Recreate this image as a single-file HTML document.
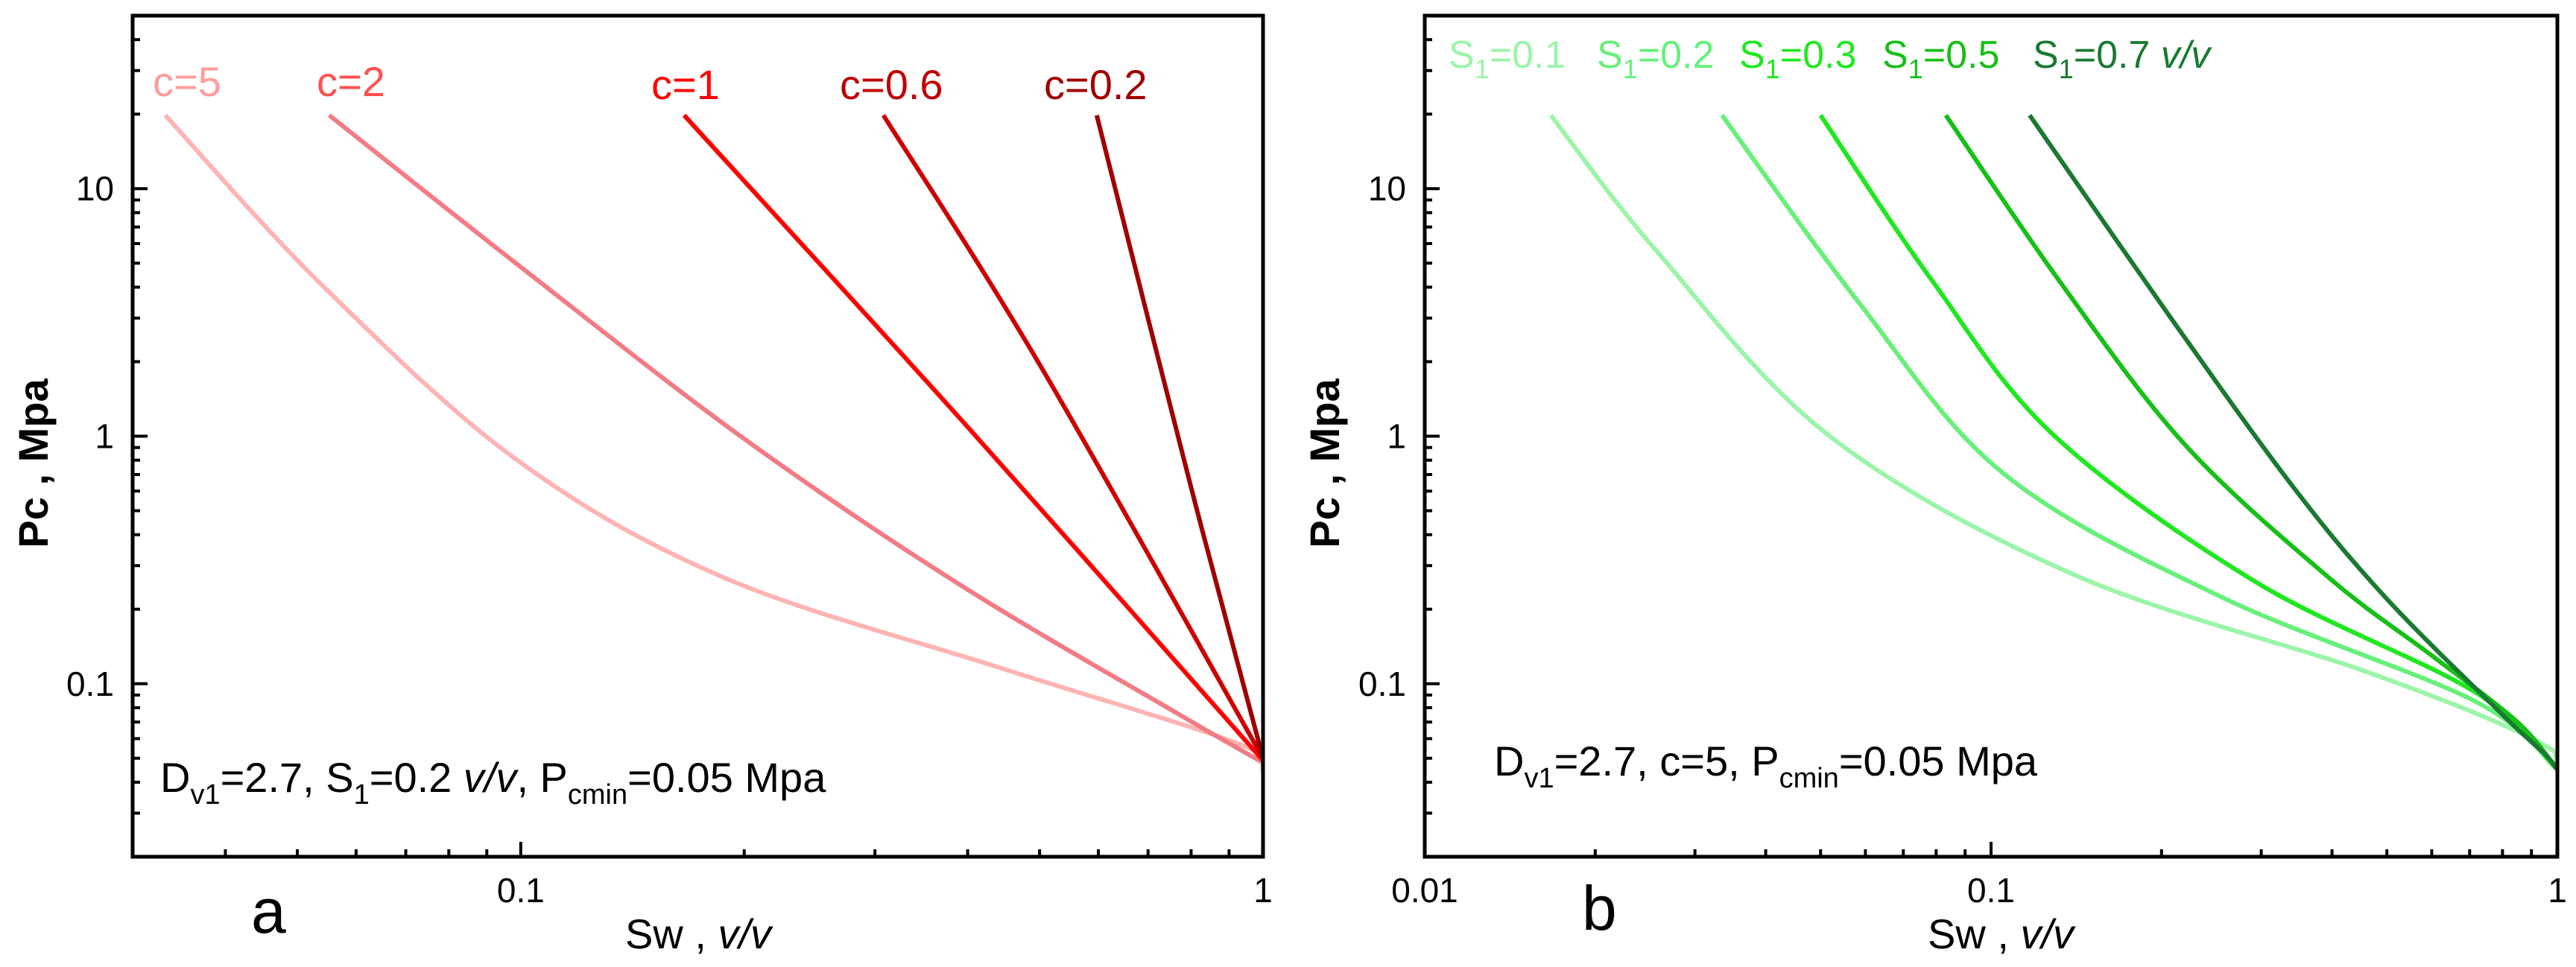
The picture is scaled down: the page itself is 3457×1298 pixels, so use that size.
<!DOCTYPE html>
<html><head><meta charset="utf-8">
<style>
html,body{margin:0;padding:0;background:#fff;}
svg{display:block;font-family:"Liberation Sans",Arial,sans-serif;}
</style></head>
<body>
<svg id="chart" width="3457" height="1298" viewBox="0 0 3457 1298" xmlns="http://www.w3.org/2000/svg">
<defs>
<clipPath id="clipA"><rect x="178" y="21" width="1517" height="1129"/></clipPath>
<clipPath id="clipB"><rect x="1912" y="21" width="1520" height="1129"/></clipPath>
</defs>
<g id="pa"></g>
<g id="pb"></g>
</svg>
<script>
// ---- Panel a data ----
const aSeriesNames = ["c=5","c=2","c=1","c=0.6","c=0.2"];
const aC5x = [0.0332,0.0537,0.0984,0.188,0.442,0.924,1,1];
const aC5y = [19.8,4.14,0.809,0.268,0.116,0.0574,0.044,0.02];
const aC2x = [0.0552,0.1028,0.201,0.394,0.773,1];
const aC2y = [19.8,4.52,0.965,0.247,0.0748,0.048];
const aC1x = [0.166,0.4,1];
const aC1y = [19.8,1.09,0.049];
const aC06x = [0.308,0.5,1];
const aC06y = [19.8,1.95,0.05];
const aC02x = [0.597,0.8,1];
const aC02y = [19.8,0.62,0.05];
// ---- Panel b data ----
const bSeriesNames = ["S1=0.1","S1=0.2","S1=0.3","S1=0.5","S1=0.7"];
const bS1x = [0.0167,0.0256,0.0519,0.141,0.459,0.902,1,1];
const bS1y = [19.8,5.64,1.0,0.274,0.112,0.060,0.045,0.02];
const bS2x = [0.0335,0.0584,0.105,0.254,0.713,1];
const bS2y = [19.8,3.47,0.709,0.225,0.0853,0.045];
const bS3x = [0.050,0.0783,0.129,0.294,0.713,1];
const bS3y = [19.8,4.32,1.01,0.257,0.093,0.045];
const bS5x = [0.0832,0.133,0.22,0.395,0.6,0.85,1];
const bS5y = [19.8,4.14,0.924,0.268,0.13,0.07,0.045];
const bS7x = [0.117,0.207,0.342,0.5,0.8,0.95,1];
const bS7y = [19.8,3.04,0.621,0.22,0.075,0.052,0.045];
// ticks
const yTickVals = [10,1,0.1];
const yTickLabels = ["10","1","0.1"];
const aXTickVals = [0.1,1];
const aXTickLabels = ["0.1","1"];
const bXTickVals = [0.01,0.1,1];
const bXTickLabels = ["0.01","0.1","1"];

const NS="http://www.w3.org/2000/svg";
function mk(parent,tag,attrs,text){const e=document.createElementNS(NS,tag);for(const k in attrs)e.setAttribute(k,attrs[k]);if(text!==undefined)e.textContent=text;parent.appendChild(e);return e;}

function makeAxes(x0,x1,y0,y1,xmin,xmax,ymin,ymax){
  const lx0=Math.log10(xmin),lx1=Math.log10(xmax),ly0=Math.log10(ymin),ly1=Math.log10(ymax);
  return {
    X:v=>x0+(Math.log10(v)-lx0)/(lx1-lx0)*(x1-x0),
    Y:v=>y1-(Math.log10(v)-ly0)/(ly1-ly0)*(y1-y0),
    x0,x1,y0,y1,xmin,xmax,ymin,ymax
  };
}
function smoothPath(pts){
  let d="M"+pts[0][0].toFixed(1)+","+pts[0][1].toFixed(1);
  for(let i=0;i<pts.length-1;i++){
    const p0=pts[Math.max(0,i-1)],p1=pts[i],p2=pts[i+1],p3=pts[Math.min(pts.length-1,i+2)];
    const c1=[p1[0]+(p2[0]-p0[0])/6,p1[1]+(p2[1]-p0[1])/6];
    const c2=[p2[0]-(p3[0]-p1[0])/6,p2[1]-(p3[1]-p1[1])/6];
    d+=" C"+c1[0].toFixed(1)+","+c1[1].toFixed(1)+" "+c2[0].toFixed(1)+","+c2[1].toFixed(1)+" "+p2[0].toFixed(1)+","+p2[1].toFixed(1);
  }
  return d;
}
function drawFrame(g,ax,xTicks,xLabels){
  const {x0,x1,y0,y1}=ax;
  const fr=mk(g,"rect",{x:x0,y:y0,width:x1-x0,height:y1-y0,fill:"none",stroke:"#000","stroke-width":5});
  
  
  for(let e=-2;e<=1;e++){for(let m=1;m<=9;m++){const v=m*Math.pow(10,e);if(v<ax.ymin||v>ax.ymax)continue;const y=ax.Y(v);
    const t=mk(g,"line",{x1:x0,x2:x0+(m===1?20:10),y1:y,y2:y,stroke:"#000","stroke-width":4});
    
    }}
  for(let e=-2;e<=0;e++){for(let m=1;m<=9;m++){const v=m*Math.pow(10,e);if(v<ax.xmin*0.999||v>ax.xmax*1.001)continue;const x=ax.X(v);
    const t=mk(g,"line",{x1:x,x2:x,y1:y1,y2:y1-(m===1?20:10),stroke:"#000","stroke-width":4});
    
    }}
  yTickVals.forEach((v,i)=>{const t=mk(g,"text",{x:x0-25,y:ax.Y(v)+16,"font-size":46,"text-anchor":"end"},yTickLabels[i]);
    
    });
  xTicks.forEach((v,i)=>{const t=mk(g,"text",{x:ax.X(v),y:1211,"font-size":46,"text-anchor":"middle"},xLabels[i]);
    
    });
}
function drawLine(g,ax,xs,ys,color,name){
  const pts=xs.map((x,i)=>[ax.X(x),ax.Y(ys[i])]);
  const p=mk(g,"path",{d:smoothPath(pts),fill:"none",stroke:color,"stroke-width":6,"stroke-linejoin":"round"});
  
  
}
function html(g,x,y,size,parts,fill,anchor){
  const t=mk(g,"text",{x:x,y:y,"font-size":size,fill:fill||"#000","text-anchor":anchor||"start"});
  parts.forEach(p=>{mk(t,"tspan",p.attrs||{},p.t);});
  return t;
}

// ---- Panel a ----
const ga=document.getElementById("pa");
const axA=makeAxes(178,1695,21,1150,0.03,1,0.02,50);
const gaL=mk(ga,"g",{"clip-path":"url(#clipA)"});


const aXs=[aC5x,aC2x,aC1x,aC06x,aC02x], aYs=[aC5y,aC2y,aC1y,aC06y,aC02y];
const aCols=["#ffb3b3","#f47a84","#ff0000","#cc0000","#a00000"];
const aLabCols=["#ff9c9c","#ff5050","#ff0000","#c00000","#a00000"];
const aLabX=[205,425,874,1127,1401], aLabY=[129,129,133,133,133];
aXs.forEach((xs,i)=>drawLine(gaL,axA,xs,aYs[i],aCols[i],"curve-"+aSeriesNames[i].replace(/[=.]/g,"-")));
drawFrame(ga,axA,aXTickVals,aXTickLabels);
aSeriesNames.forEach((n,i)=>{const t=mk(ga,"text",{x:aLabX[i],y:aLabY[i],"font-size":56,fill:aLabCols[i]},n);
  
  });
{const t=html(ga,215,1063,56,[{t:"D"},{t:"v1",attrs:{"font-size":38,dy:16}},{t:"=2.7, S",attrs:{dy:-16}},{t:"1",attrs:{"font-size":38,dy:16}},{t:"=0.2 ",attrs:{dy:-16}},{t:"v/v",attrs:{"font-style":"italic"}},{t:", P"},{t:"cmin",attrs:{"font-size":38,dy:16}},{t:"=0.05 Mpa",attrs:{dy:-16}}]);
 
 }
{const t=mk(ga,"text",{x:337,y:1252,"font-size":84},"a");
 
 }
{const t=html(ga,937,1273,56,[{t:"Sw , "},{t:"v/v",attrs:{"font-style":"italic"}}],"#000","middle");
 
 }
{const t=mk(ga,"text",{x:0,y:0,"font-size":56,"font-weight":"bold","text-anchor":"middle",transform:"translate(64,622) rotate(-90)"},"Pc , Mpa");
 
 }

// ---- Panel b ----
const gb=document.getElementById("pb");
const axB=makeAxes(1912,3432,21,1150,0.01,1,0.02,50);
const gbL=mk(gb,"g",{"clip-path":"url(#clipB)"});


const bXs=[bS1x,bS2x,bS3x,bS5x,bS7x], bYs=[bS1y,bS2y,bS3y,bS5y,bS7y];
const bCols=["#9af5a8","#66f07a","#1fe81f","#17c017","#1a7a30"];
const bLabX=[1944,2143,2334,2526,2728];
const bLabVals=["0.1","0.2","0.3","0.5","0.7"];
bXs.forEach((xs,i)=>drawLine(gbL,axB,xs,bYs[i],bCols[i],"curve-s1-"+bLabVals[i].replace(".","-")));
drawFrame(gb,axB,bXTickVals,bXTickLabels);
bLabVals.forEach((v,i)=>{const parts=[{t:"S"},{t:"1",attrs:{"font-size":36,dy:14}},{t:"="+v,attrs:{dy:-14}}];
  if(i===4){parts.push({t:" "});parts.push({t:"v/v",attrs:{"font-style":"italic"}});}
  const t=html(gb,bLabX[i],91,52,parts,bCols[i]);
  
  });
{const t=html(gb,2005,1041,56,[{t:"D"},{t:"v1",attrs:{"font-size":38,dy:16}},{t:"=2.7, c=5, P",attrs:{dy:-16}},{t:"cmin",attrs:{"font-size":38,dy:16}},{t:"=0.05 Mpa",attrs:{dy:-16}}]);
 
 }
{const t=mk(gb,"text",{x:2123,y:1248,"font-size":84},"b");
 
 }
{const t=html(gb,2685,1273,56,[{t:"Sw , "},{t:"v/v",attrs:{"font-style":"italic"}}],"#000","middle");
 
 }
{const t=mk(gb,"text",{x:0,y:0,"font-size":56,"font-weight":"bold","text-anchor":"middle",transform:"translate(1797,622) rotate(-90)"},"Pc , Mpa");
 
 }
</script>
</body></html>
